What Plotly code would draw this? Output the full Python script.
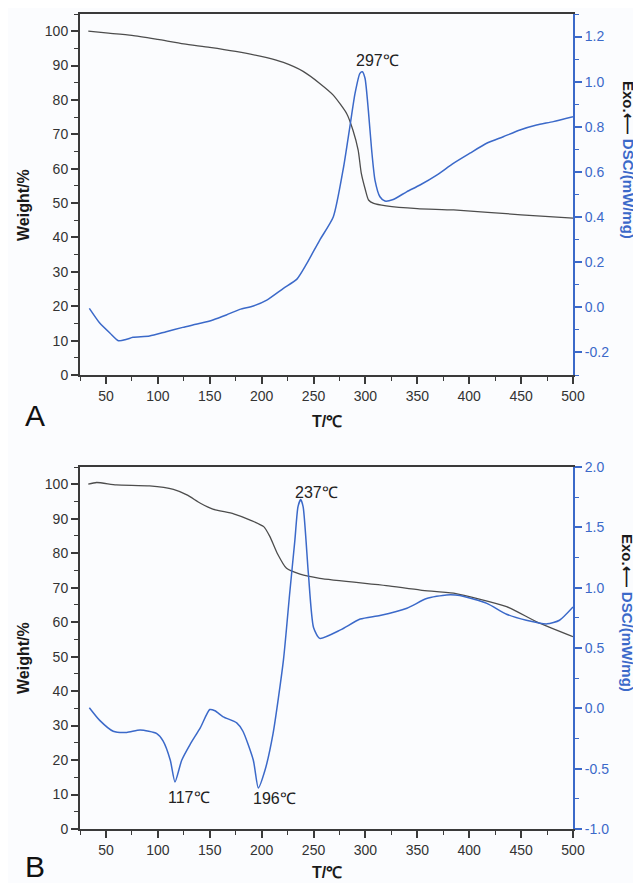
import plotly.graph_objects as go

# ---------------- data ----------------
# Panel A
T_A_tg = [33, 50, 75, 100, 125, 150, 175, 205, 221, 240, 256, 269, 282, 288, 293, 296, 300, 303, 308, 320, 350, 385, 450, 500]
W_A_tg = [100, 99.5, 98.8, 97.6, 96.3, 95.3, 94.1, 92.3, 90.9, 88.3, 84.8, 81.4, 76, 71.2, 65.4, 58.7, 53.8, 50.9, 49.9, 49.2, 48.4, 48.0, 46.6, 45.6]

T_A_dsc = [34, 44, 54, 62, 70, 76, 92, 108, 124, 141, 153, 166, 179, 192, 205, 221, 234, 243, 256, 269, 279, 285, 290, 294.7, 297,
           299.6, 302.8, 306, 309.2, 314, 318.8, 326.8, 339.7, 352.6, 368.7, 384.7, 400.7, 416.8, 432.8, 448.9, 464.9, 481, 500]
D_A_dsc = [-0.005, -0.07, -0.115, -0.148, -0.142, -0.133, -0.127, -0.108, -0.089, -0.071, -0.056, -0.034, -0.009, 0.006, 0.032,
           0.084, 0.125, 0.19, 0.298, 0.40, 0.623, 0.80, 0.948, 1.037, 1.044, 1.015, 0.874, 0.697, 0.564, 0.49, 0.471, 0.478,
           0.512, 0.542, 0.586, 0.638, 0.683, 0.727, 0.756, 0.786, 0.808, 0.823, 0.845]

# Panel B
T_B_tg = [33, 41, 60, 92, 115, 128, 141, 153, 173, 189, 202, 208, 215, 224, 237, 256, 320, 353, 385, 436, 465, 500]
W_B_tg = [100, 100.5, 99.8, 99.5, 98.5, 96.9, 94.5, 92.8, 91.4, 89.6, 87.7, 84.8, 80, 75.6, 73.9, 72.7, 70.6, 69.3, 68.4, 64.5, 60.1, 55.8]

T_B_dsc = [34, 44, 57, 70, 83, 99, 105, 112, 116.5, 123, 131, 141, 150, 155, 163, 176, 182, 192, 196.8, 203, 211, 221, 227, 232,
           235, 237.6, 240, 245, 250, 256, 276, 295, 314, 340, 359, 378, 391, 417, 436, 455, 475, 487, 500]
D_B_dsc = [0.005, -0.10, -0.19, -0.20, -0.18, -0.21, -0.27, -0.43, -0.61, -0.43, -0.30, -0.16, -0.01, -0.02, -0.07, -0.12, -0.19,
           -0.43, -0.66, -0.52, -0.21, 0.40, 0.95, 1.39, 1.67, 1.73, 1.67, 1.12, 0.67, 0.58, 0.65, 0.74, 0.77, 0.83, 0.91, 0.94,
           0.935, 0.87, 0.78, 0.73, 0.70, 0.73, 0.84]

# ticks
x_ticks = [50, 100, 150, 200, 250, 300, 350, 400, 450, 500]
w_ticks = [0, 10, 20, 30, 40, 50, 60, 70, 80, 90, 100]
dscA_ticks = [-0.2, 0.0, 0.2, 0.4, 0.6, 0.8, 1.0, 1.2]
dscA_text = ["-0.2", "0.0", "0.2", "0.4", "0.6", "0.8", "1.0", "1.2"]
dscB_ticks = [-1.0, -0.5, 0.0, 0.5, 1.0, 1.5, 2.0]
dscB_text = ["-1.0", "-0.5", "0.0", "0.5", "1.0", "1.5", "2.0"]

# peak labels
peaksA = [(312, 1.092, "297℃")]
peaksB = [(253, 1.79, "237℃"), (130, -0.74, "117℃"), (212, -0.75, "196℃")]

# ---------------- styling ----------------
W, H = 641, 883
OFF = 8                    # page body margin shifts the figure
FONT = "Liberation Sans, Arial, sans-serif"
GRAY = "#4d4d4d"
AXG = "#3a3a3a"
BLUE = "#3b69c9"
BG = "#fbfcfe"

def px(x):
    return (x - OFF) / W

def py(y):
    return 1 - (y - OFF) / H

fig = go.Figure()
fig.add_trace(go.Scatter(x=T_A_tg, y=W_A_tg, xaxis="x", yaxis="y", mode="lines",
                         line=dict(color=GRAY, width=1.3, shape="spline", smoothing=0.6), showlegend=False))
fig.add_trace(go.Scatter(x=T_A_dsc, y=D_A_dsc, xaxis="x", yaxis="y3", mode="lines",
                         line=dict(color=BLUE, width=1.5, shape="spline", smoothing=0.6), showlegend=False))
fig.add_trace(go.Scatter(x=T_B_tg, y=W_B_tg, xaxis="x2", yaxis="y2", mode="lines",
                         line=dict(color=GRAY, width=1.3, shape="spline", smoothing=0.6), showlegend=False))
fig.add_trace(go.Scatter(x=T_B_dsc, y=D_B_dsc, xaxis="x2", yaxis="y4", mode="lines",
                         line=dict(color=BLUE, width=1.5, shape="spline", smoothing=0.6), showlegend=False))

xdom = [px(80), px(573)]
topdom = [py(375), py(14)]
botdom = [py(829), py(467)]

tickfont = dict(family=FONT, size=14, color="#333333")
bluefont = dict(family=FONT, size=14, color=BLUE)

def xax(anchor):
    return dict(domain=xdom, anchor=anchor, range=[25, 500], tickmode="array", tickvals=x_ticks,
                ticks="outside", ticklen=7, tickwidth=1.5, tickcolor=AXG,
                minor=dict(dtick=25, tick0=0, ticks="outside", ticklen=4, tickwidth=1.3, tickcolor=AXG),
                showline=True, linecolor=AXG, linewidth=2, mirror=True, showgrid=False, zeroline=False,
                tickfont=tickfont, fixedrange=True, automargin=False)

def yleft(dom, anchor):
    return dict(domain=dom, anchor=anchor, range=[0, 105], tickmode="array", tickvals=w_ticks,
                ticks="outside", ticklen=7, tickwidth=1.5, tickcolor=AXG,
                minor=dict(dtick=5, tick0=0, ticks="outside", ticklen=4, tickwidth=1.3, tickcolor=AXG),
                showline=True, linecolor=AXG, linewidth=2, showgrid=False, zeroline=False,
                tickfont=tickfont, fixedrange=True, automargin=False)

def yright(over, anchor, rng, vals, text, mdt):
    return dict(overlaying=over, anchor=anchor, side="right", range=rng, tickmode="array",
                tickvals=vals, ticktext=text, ticks="outside", ticklen=7, tickwidth=1.5, tickcolor=BLUE,
                minor=dict(dtick=mdt, tick0=0, ticks="outside", ticklen=4, tickwidth=1.3, tickcolor=BLUE),
                showline=True, linecolor=BLUE, linewidth=2, showgrid=False, zeroline=False,
                tickfont=bluefont, fixedrange=True, automargin=False)

fig.update_layout(
    width=W, height=H, margin=dict(l=0, r=0, t=0, b=0, autoexpand=False),
    paper_bgcolor=BG, plot_bgcolor=BG, showlegend=False,
    xaxis=xax("y"), xaxis2=xax("y2"),
    yaxis=yleft(topdom, "x"), yaxis2=yleft(botdom, "x2"),
    yaxis3=yright("y", "x", [-0.3, 1.3], dscA_ticks, dscA_text, 0.1),
    yaxis4=yright("y2", "x2", [-1.0, 2.0], dscB_ticks, dscB_text, 0.25),
)

ann = []
for (x, y, t) in peaksA:
    ann.append(dict(x=x, y=y, xref="x", yref="y3", text=t, showarrow=False,
                    font=dict(family=FONT, size=16, color="#222222")))
for (x, y, t) in peaksB:
    ann.append(dict(x=x, y=y, xref="x2", yref="y4", text=t, showarrow=False,
                    font=dict(family=FONT, size=16, color="#222222")))

for off, toff in ((0, 0), (453, 451)):
    ann.append(dict(x=px(23), y=py(205 + off), xref="paper", yref="paper", text="<b>Weight/%</b>",
                    textangle=-90, showarrow=False, xanchor="center", yanchor="middle",
                    font=dict(family=FONT, size=16, color="#1a1a1a")))
    ann.append(dict(x=px(327), y=py(421 + toff), xref="paper", yref="paper", text="<b>T/℃</b>",
                    showarrow=False, xanchor="center", yanchor="middle",
                    font=dict(family=FONT, size=16, color="#1a1a1a")))
    ann.append(dict(x=px(628), y=py(160 + off), xref="paper", yref="paper",
                    text="<b>Exo.⟵ <span style='color:%s'>DSC/(mW/mg)</span></b>" % BLUE,
                    textangle=90, showarrow=False, xanchor="center", yanchor="middle",
                    font=dict(family=FONT, size=15, color="#1a1a1a")))

ann.append(dict(x=px(35), y=py(415), xref="paper", yref="paper", text="A", showarrow=False,
                xanchor="center", yanchor="middle", font=dict(family=FONT, size=30, color="#111111")))
ann.append(dict(x=px(35), y=py(866), xref="paper", yref="paper", text="B", showarrow=False,
                xanchor="center", yanchor="middle", font=dict(family=FONT, size=30, color="#111111")))

fig.update_layout(annotations=ann)
fig.write_html("out.html")
